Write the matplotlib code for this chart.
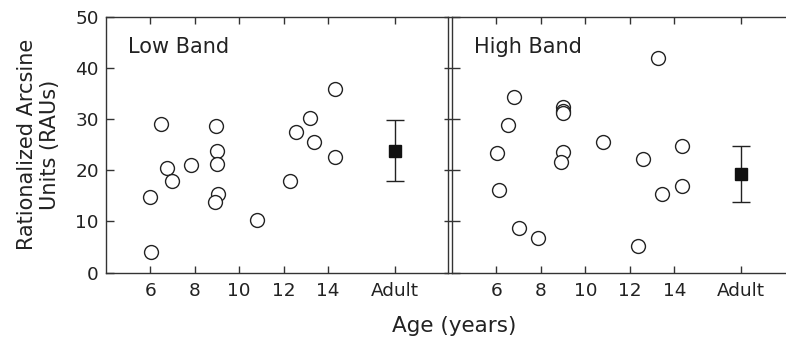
import matplotlib
matplotlib.use("Agg")
import matplotlib.pyplot as plt

# ---- data ----
low_age = [6.0, 6.06, 6.48, 6.78, 7.0, 7.82, 8.98, 9.0, 9.0, 9.05, 8.9, 10.82,
           12.3, 12.56, 13.2, 13.37, 14.3, 14.3]
low_rau = [14.8, 4.1, 29.1, 20.5, 17.8, 21.0, 28.6, 23.7, 21.2, 15.3, 13.8, 10.2,
           17.8, 27.5, 30.1, 25.4, 22.5, 35.8]
low_adult_mean = 23.8
low_adult_err = 5.9

high_age = [6.01, 6.1, 6.5, 6.77, 7.0, 7.85, 9.0, 9.0, 9.0, 9.0, 8.9, 10.8,
            12.35, 12.6, 13.27, 13.43, 14.35, 14.35]
high_rau = [23.3, 16.1, 28.8, 34.2, 8.7, 6.75, 32.3, 31.6, 31.1, 23.5, 21.5, 25.5,
            5.2, 22.1, 41.8, 15.4, 24.8, 16.9]
high_adult_mean = 19.3
high_adult_err = 5.5

adult_x = 17.0
xticks = [6, 8, 10, 12, 14, adult_x]
xticklabels = ["6", "8", "10", "12", "14", "Adult"]
yticks = [0, 10, 20, 30, 40, 50]
panel_titles = ["Low Band", "High Band"]

plt.rcParams['font.family'] = ['DejaVu Sans']

fig = plt.figure(figsize=(7.86, 3.43), dpi=100)
W, H = 786.0, 343.0
ax_w = (448 - 105.7) / W
ax_b = 1 - 272.5 / H
ax_h = (272.5 - 16.5) / H
ax1 = fig.add_axes([105.7 / W, ax_b, ax_w, ax_h])
ax2 = fig.add_axes([452.0 / W, ax_b, ax_w, ax_h])

col = '#222222'
for ax, ages, raus, m, e, title in [
        (ax1, low_age, low_rau, low_adult_mean, low_adult_err, panel_titles[0]),
        (ax2, high_age, high_rau, high_adult_mean, high_adult_err, panel_titles[1])]:
    ax.plot(ages, raus, linestyle='none', marker='o', markersize=10,
            markerfacecolor='white', markeredgecolor=col, markeredgewidth=1.0, zorder=3)
    ax.errorbar([adult_x], [m], yerr=[e], fmt='s', color=col, markersize=9,
                markerfacecolor='#111111', markeredgecolor='#111111',
                ecolor=col, elinewidth=1.0, capsize=6.5, capthick=1.0, zorder=4)
    ax.set_xlim(4.0, 19.4)
    ax.set_ylim(0, 50)
    ax.set_xticks(xticks)
    ax.set_xticklabels(xticklabels)
    ax.set_yticks(yticks)
    ax.text(0.065, 0.88, title, transform=ax.transAxes, fontsize=15,
            color='#222222', va='center', ha='left')
    for s in ax.spines.values():
        s.set_linewidth(1.0)
        s.set_color('#333333')
    ax.tick_params(axis='x', direction='in', length=5, width=1.0, top=True,
                   labelsize=13.3, pad=7, colors='#333333', labelcolor='#222222')

ax2.spines['right'].set_visible(False)

ax1.tick_params(axis='y', direction='in', length=6, width=1.0, left=True, right=False,
                labelsize=13.3, pad=5, colors='#333333', labelcolor='#222222')
ax2.tick_params(axis='y', direction='inout', length=12, width=1.0, left=True, right=False,
                labelleft=False, colors='#333333')

ax1.set_ylabel("Rationalized Arcsine\nUnits (RAUs)", fontsize=15, color='#222222',
               linespacing=1.2)
ax1.yaxis.set_label_coords((60 - 105.7) / 342.3, 0.5)
fig.text(454 / W, 1 - 326 / H, "Age (years)", fontsize=15.5, color='#222222',
         ha='center', va='center')

fig.savefig("out.png", dpi=100)
